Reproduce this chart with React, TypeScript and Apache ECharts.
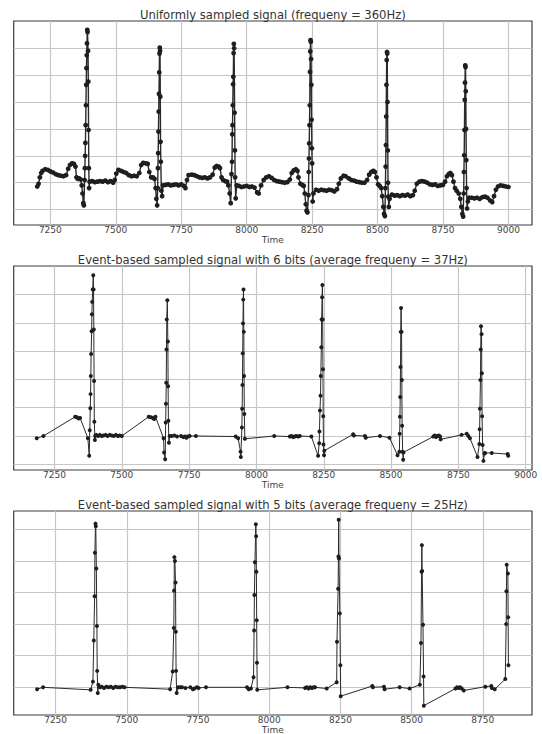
import { useEffect, useRef } from "react";
import * as echarts from "echarts";

// ---------- data ----------
const panelTitles = [
  "Uniformly sampled signal (frequeny = 360Hz)",
  "Event-based sampled signal with 6 bits (average frequeny = 37Hz)",
  "Event-based sampled signal with 5 bits (average frequeny = 25Hz)",
];
const axisName = "Time";

const xTicksWide = [7250, 7500, 7750, 8000, 8250, 8500, 8750, 9000];
const xTicksNarrow = [7250, 7500, 7750, 8000, 8250, 8500, 8750];
const yTicksWide = [-0.5, 0, 0.5, 1, 1.5, 2, 2.5];
const yTicksNarrow = [0, 0.5, 1, 1.5, 2, 2.5];

// uniformly sampled signal (360 Hz)
const uniformTime = [
  7200, 7205, 7210, 7215, 7220, 7230, 7240, 7250, 7260, 7270, 7280, 7290, 7300, 7310, 7318, 7325, 7333, 7340, 7346, 7350,
  7355, 7360, 7366, 7370, 7373, 7376, 7378, 7381, 7382, 7383, 7384, 7385, 7386, 7387, 7388, 7389, 7390, 7391, 7392, 7394,
  7395, 7396, 7397, 7398, 7400, 7410, 7420, 7430, 7440, 7450, 7460, 7470, 7480, 7490, 7496, 7502, 7510, 7520, 7530, 7540,
  7550, 7560, 7570, 7580, 7590, 7597, 7605, 7615, 7622, 7628, 7635, 7642, 7648, 7652, 7655, 7658, 7660, 7661, 7662, 7663,
  7664, 7665, 7666, 7667, 7668, 7669, 7670, 7671, 7672, 7674, 7677, 7680, 7690, 7700, 7710, 7720, 7730, 7740, 7750, 7760,
  7766, 7772, 7778, 7790, 7800, 7810, 7820, 7830, 7840, 7850, 7860, 7870, 7878, 7885, 7893, 7898, 7904, 7910, 7918, 7925,
  7930, 7935, 7939, 7942, 7944, 7945, 7946, 7947, 7948, 7949, 7950, 7951, 7952, 7954, 7955, 7956, 7958, 7962, 7970, 7980,
  7990, 8000, 8010, 8020, 8030, 8040, 8046, 8055, 8065, 8075, 8085, 8095, 8105, 8115, 8125, 8135, 8145, 8155, 8165, 8172,
  8180, 8188, 8194, 8198, 8205, 8212, 8218, 8222, 8226, 8229, 8232, 8236, 8237, 8238, 8239, 8240, 8241, 8242, 8243, 8244,
  8245, 8246, 8247, 8248, 8249, 8250, 8252, 8255, 8265, 8275, 8285, 8295, 8305, 8315, 8325, 8335, 8345, 8352, 8360, 8370,
  8378, 8390, 8400, 8410, 8420, 8430, 8440, 8450, 8460, 8468, 8476, 8484, 8490, 8496, 8502, 8508, 8514, 8518, 8522, 8525,
  8528, 8530, 8531, 8532, 8533, 8534, 8535, 8536, 8537, 8538, 8539, 8540, 8541, 8543, 8546, 8555, 8565, 8575, 8585, 8595,
  8605, 8615, 8625, 8635, 8642, 8650, 8660, 8670, 8680, 8690, 8700, 8710, 8720, 8730, 8740, 8750, 8758, 8765, 8772, 8778,
  8784, 8790, 8796, 8802, 8810, 8816, 8820, 8824, 8827, 8829, 8830, 8831, 8832, 8833, 8834, 8835, 8836, 8837, 8838, 8839,
  8840, 8842, 8845, 8850, 8860, 8870, 8880, 8890, 8900, 8910, 8920, 8930, 8938, 8945, 8952, 8960, 8970, 8980, 8990, 9000,
];
const uniformValue = [
  -0.07, -0.02, 0.1, 0.18, 0.22, 0.25, 0.24, 0.21, 0.19, 0.16, 0.14, 0.13, 0.12, 0.14, 0.26, 0.33, 0.36, 0.35, 0.3, 0.1,
  0.07, 0.08, 0.06, -0.05, -0.2, -0.38, -0.42, 0.05, 0.27, 0.5, 0.74, 1.07, 1.44, 1.82, 2.13, 2.37, 2.59, 2.84, 2.8, 2.45,
  1.88, 0.98, 0.27, -0.1, 0.02, 0.03, 0.01, 0.02, 0.03, 0.02, 0.04, 0.01, 0.03, 0.0, 0.05, 0.17, 0.24, 0.22, 0.2, 0.18,
  0.14, 0.12, 0.13, 0.12, 0.18, 0.33, 0.37, 0.36, 0.35, 0.2, 0.1, 0.1, 0.07, -0.1, -0.3, -0.42, -0.1, 0.27, 0.55, 0.95,
  1.32, 1.65, 2.05, 2.4, 2.51, 2.45, 1.6, 0.76, 0.39, -0.15, -0.25, -0.05, -0.04, -0.03, -0.05, -0.04, -0.03, -0.05, -0.03, -0.06,
  -0.1, 0.05, 0.14, 0.15, 0.14, 0.12, 0.1, 0.09, 0.1, 0.08, 0.1, 0.15, 0.28, 0.31, 0.3, 0.27, 0.1, 0.05, 0.03, 0.02,
  -0.05, -0.2, -0.38, 0.16, 0.39, 0.9, 1.07, 1.44, 1.83, 1.97, 2.41, 2.58, 2.5, 1.3, 0.6, 0.1, -0.29, -0.05, -0.06, -0.08,
  -0.07, -0.06, -0.08, -0.07, -0.09, -0.18, -0.2, -0.05, 0.05, 0.1, 0.12, 0.09, 0.05, 0.03, 0.02, 0.01, 0.0, 0.01, 0.06, 0.18,
  0.23, 0.25, 0.22, 0.1, -0.02, -0.04, -0.06, -0.2, -0.4, -0.52, -0.55, -0.23, 0.2, 0.45, 0.73, 1.07, 1.44, 2.06, 2.44, 2.65,
  2.62, 2.3, 1.82, 1.17, 0.64, 0.36, -0.35, -0.2, -0.13, -0.15, -0.13, -0.14, -0.15, -0.13, -0.14, -0.16, -0.12, -0.02, 0.08, 0.13,
  0.12, 0.08, 0.05, 0.04, 0.02, 0.01, 0.0, 0.0, 0.05, 0.15, 0.2, 0.22, 0.2, 0.1, -0.03, -0.06, -0.1, -0.25, -0.45, -0.58,
  -0.62, -0.1, 0.3, 0.7, 1.23, 1.82, 2.28, 2.43, 2.4, 1.5, 0.6, 0.0, -0.26, -0.45, -0.3, -0.22, -0.24, -0.23, -0.25, -0.23,
  -0.24, -0.22, -0.25, -0.23, -0.15, -0.02, 0.02, 0.03, 0.02, 0.0, -0.03, -0.04, -0.03, -0.06, -0.05, -0.04, 0.02, 0.12, 0.16, 0.18,
  0.14, 0.02, -0.1, -0.15, -0.2, -0.3, -0.45, -0.58, -0.63, -0.2, 0.2, 0.51, 0.98, 1.54, 1.86, 2.18, 2.15, 1.7, 1.0, 0.42,
  -0.1, -0.48, -0.35, -0.28, -0.28, -0.29, -0.28, -0.3, -0.27, -0.26, -0.28, -0.33, -0.36, -0.25, -0.13, -0.07, -0.05, -0.06, -0.07, -0.08,
];

// event-based sampling, 6 bits
const bits6Time = [
  7184, 7209, 7327, 7333, 7340, 7345, 7374, 7379, 7381, 7383, 7384, 7385, 7386, 7388, 7389, 7390, 7392, 7394, 7395, 7396,
  7397, 7398, 7400, 7401, 7405, 7412, 7418, 7425, 7432, 7440, 7447, 7455, 7462, 7470, 7478, 7485, 7492, 7500, 7600, 7608,
  7615, 7620, 7625, 7655, 7657, 7661, 7663, 7664, 7665, 7666, 7667, 7669, 7671, 7672, 7673, 7675, 7678, 7685, 7695, 7705,
  7720, 7728, 7735, 7740, 7745, 7752, 7775, 7923, 7932, 7941, 7942, 7946, 7947, 7948, 7949, 7950, 7951, 7952, 7953, 7954,
  7955, 7957, 8066, 8124, 8130, 8136, 8142, 8148, 8155, 8161, 8204, 8229, 8233, 8234, 8236, 8238, 8239, 8241, 8242, 8244,
  8245, 8246, 8247, 8248, 8249, 8251, 8252, 8359, 8362, 8403, 8406, 8459, 8494, 8524, 8531, 8532, 8533, 8534, 8535, 8536,
  8537, 8539, 8540, 8541, 8543, 8545, 8546, 8657, 8662, 8667, 8672, 8677, 8682, 8684, 8762, 8781, 8787, 8793, 8821, 8828,
  8829, 8830, 8832, 8833, 8834, 8836, 8837, 8838, 8840, 8843, 8847, 8849, 8874, 8933, 8935,
];
const bits6Value = [
  -0.04, 0.0, 0.34, 0.33, 0.31, 0.32, -0.04, -0.35, 0.1, 0.49, 0.74, 1.06, 1.45, 1.85, 2.15, 2.37, 2.59, 2.84, 2.59, 1.88,
  0.97, 0.25, -0.07, 0.0, 0.02, 0.0, 0.02, 0.0, 0.01, 0.02, 0.0, 0.02, 0.01, 0.0, 0.02, 0.0, 0.01, 0.0, 0.34, 0.33,
  0.32, 0.3, 0.34, -0.04, -0.29, -0.41, 0.24, 0.57, 0.94, 1.53, 2.06, 2.4, 1.67, 0.88, 0.27, -0.12, 0.0, 0.0, 0.01, -0.01,
  0.0, -0.02, -0.01, -0.03, -0.01, 0.0, 0.0, -0.01, -0.04, -0.28, -0.37, 0.15, 0.48, 0.9, 1.46, 1.99, 2.41, 2.59, 1.84, 1.06,
  0.39, -0.05, 0.0, -0.01, 0.0, -0.02, -0.01, 0.0, -0.01, 0.0, -0.01, -0.35, -0.13, 0.08, 0.45, 0.71, 1.06, 1.57, 2.06, 2.45,
  2.67, 2.06, 1.18, 0.35, -0.15, -0.34, -0.26, 0.03, 0.01, 0.0, -0.03, 0.0, -0.03, -0.34, -0.28, 0.04, 0.34, 0.69, 1.22, 1.84,
  2.26, 1.84, 0.99, 0.18, -0.28, -0.42, -0.29, -0.01, 0.01, -0.02, 0.0, 0.01, -0.01, -0.06, 0.02, 0.04, 0.0, -0.04, -0.37, -0.14,
  0.12, 0.48, 0.99, 1.53, 1.94, 1.8, 1.11, 0.35, -0.16, -0.44, -0.31, -0.3, -0.3, -0.32, -0.35,
];

// event-based sampling, 5 bits
const bits5Time = [
  7185, 7206, 7373, 7381, 7384, 7387, 7388, 7390, 7391, 7393, 7395, 7396, 7398, 7400, 7405, 7412, 7420, 7428, 7436, 7444,
  7452, 7460, 7468, 7476, 7484, 7492, 7652, 7661, 7665, 7666, 7667, 7669, 7671, 7672, 7673, 7675, 7681, 7688, 7694, 7706,
  7723, 7732, 7737, 7746, 7752, 7778, 7922, 7928, 7936, 7945, 7947, 7948, 7950, 7953, 7954, 7955, 7956, 7957, 7958, 8064,
  8126, 8132, 8138, 8144, 8150, 8156, 8161, 8202, 8237, 8238, 8242, 8243, 8244, 8245, 8248, 8250, 8251, 8362, 8364, 8403,
  8405, 8458, 8493, 8529, 8533, 8535, 8536, 8537, 8540, 8542, 8543, 8654, 8660, 8665, 8670, 8676, 8683, 8759, 8780, 8782,
  8792, 8829, 8832, 8833, 8834, 8838, 8839, 8840,
];
const bits5Value = [
  -0.03, 0.0, -0.04, 0.09, 0.74, 1.44, 2.13, 2.59, 2.55, 1.88, 0.97, 0.26, -0.09, 0.04, 0.0, 0.01, -0.01, 0.01, 0.0, 0.01,
  -0.01, 0.01, 0.0, 0.0, 0.01, 0.0, -0.03, 0.25, 0.94, 1.53, 2.06, 2.0, 1.66, 0.88, 0.26, -0.09, 0.0, 0.0, 0.0, -0.01,
  0.0, -0.03, -0.02, 0.0, -0.01, 0.0, 0.0, -0.03, -0.02, 0.16, 0.9, 1.46, 1.98, 2.58, 2.39, 1.83, 1.06, 0.39, -0.04, 0.0,
  -0.01, 0.0, -0.02, 0.0, -0.01, 0.0, 0.0, -0.02, 0.08, 0.72, 1.56, 2.07, 2.65, 2.04, 1.17, 0.35, -0.14, 0.02, 0.0, 0.01,
  -0.03, 0.0, -0.02, 0.04, 0.7, 1.83, 2.25, 1.84, 0.99, 0.17, -0.29, -0.02, 0.0, -0.01, 0.0, -0.02, -0.05, 0.01, 0.02, -0.01,
  -0.03, 0.13, 1.0, 1.52, 1.94, 1.8, 1.11, 0.35,
];

// axis extents per panel
const xExtents = [
  [7110, 9090],
  [7098.5, 9023.4],
  [7102.8, 8922.8],
];
const yExtents = [
  [-0.786, 3.006],
  [-0.601, 3.004],
  [-0.438, 2.79],
];

// ---------- chart ----------
const FONT = "DejaVu Sans";
const W = 542;
const H = 734;
const LEFT = 13.7;
const PLOT_W = 518.3;
const PLOT_H = 204;
const TOPS = [21, 266, 511];

const zip = (xs: number[], ys: number[]) => xs.map((x, i) => [x, ys[i]]);

export default function App() {
  const ref = useRef<HTMLDivElement>(null);

  useEffect(() => {
    if (!ref.current) return;
    const chart = echarts.init(ref.current, undefined, { renderer: "svg", width: W, height: H });

    const seriesData = [
      zip(uniformTime, uniformValue),
      zip(bits6Time, bits6Value),
      zip(bits5Time, bits5Value),
    ];
    const xTicks = [xTicksWide, xTicksWide, xTicksNarrow];
    const yTicks = [yTicksWide, yTicksWide, yTicksNarrow];

    chart.setOption({
      animation: false,
      backgroundColor: "#ffffff",
      grid: TOPS.map((top) => ({
        left: LEFT,
        top,
        width: PLOT_W,
        height: PLOT_H,
        show: true,
        backgroundColor: "#ffffff",
        borderColor: "#3c3c3c",
        borderWidth: 1.2,
        containLabel: false,
        outerBoundsMode: "none",
      })),
      xAxis: TOPS.map((_, i) => ({
        type: "value",
        gridIndex: i,
        min: xExtents[i][0],
        max: xExtents[i][1],
        axisLine: { show: false },
        axisTick: { show: false, customValues: xTicks[i] },
        axisLabel: {
          customValues: xTicks[i],
          formatter: (v: number) => String(v),
          color: "#444",
          fontSize: 9,
          fontFamily: FONT,
          margin: 0.5,
        },
        splitLine: { show: true, lineStyle: { color: "#c6c6c6", width: 1.2 } },
        name: axisName,
        nameLocation: "middle",
        nameGap: 8.5,
        nameTextStyle: { color: "#444", fontSize: 9, fontFamily: FONT },
      })),
      yAxis: TOPS.map((_, i) => ({
        type: "value",
        gridIndex: i,
        min: yExtents[i][0],
        max: yExtents[i][1],
        axisLine: { show: false },
        axisTick: { show: false, customValues: yTicks[i] },
        axisLabel: { show: false, customValues: yTicks[i] },
        splitLine: { show: true, lineStyle: { color: "#c6c6c6", width: 1.2 } },
      })),
      series: seriesData.map((data, i) => ({
        type: "line",
        xAxisIndex: i,
        yAxisIndex: i,
        data,
        symbol: "circle",
        symbolSize: i === 0 ? 4.8 : 4,
        showSymbol: true,
        showAllSymbol: true,
        silent: true,
        clip: true,
        lineStyle: { color: "#2a2a2a", width: i === 0 ? 1.4 : 1 },
        itemStyle: { color: "#1e1e1e" },
        emphasis: { disabled: true },
      })),
      graphic: panelTitles.map((text, i) => ({
        type: "text",
        x: LEFT + PLOT_W / 2,
        y: TOPS[i] - 6.5,
        style: {
          text,
          fill: "#333",
          font: `11.6px "${FONT}"`,
          align: "center",
          verticalAlign: "middle",
        },
      })),
    });

    return () => chart.dispose();
  }, []);

  return (
    <div
      ref={ref}
      style={{ position: "fixed", left: 0, top: 0, width: W, height: H, background: "#fff" }}
    />
  );
}
